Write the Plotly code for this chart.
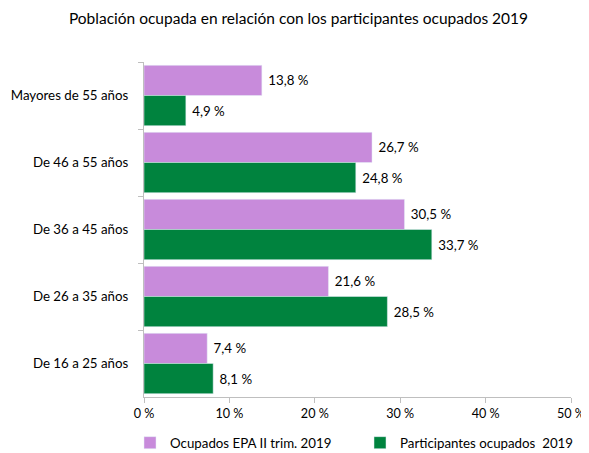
import plotly.graph_objects as go

categorias = ["De 16 a 25 años", "De 26 a 35 años", "De 36 a 45 años", "De 46 a 55 años", "Mayores de 55 años"]
epa = [7.4, 21.6, 30.5, 26.7, 13.8]
participantes = [8.1, 28.5, 33.7, 24.8, 4.9]
x_ticks = [0, 10, 20, 30, 40, 50]
x_labels = ["0 %", "10 %", "20 %", "30 %", "40 %", "50 %"]

def fmt(v):
    return "\u00a0" + f"{v:.1f} %".replace(".", ",")

FONT = "Lato, Open Sans, sans-serif"
W, H = 581, 445  # page body has an 8px margin

fig = go.Figure()
fig.add_trace(go.Bar(
    y=categorias, x=epa, orientation="h",
    name="Ocupados EPA II trim. 2019",
    marker=dict(color="#C88BDB"),
    text=[fmt(v) for v in epa], textposition="outside",
    textfont=dict(size=13.3, color="#000000"), cliponaxis=False,
    legend="legend", showlegend=True,
))
fig.add_trace(go.Bar(
    y=categorias, x=participantes, orientation="h",
    name="Participantes ocupados  2019",
    marker=dict(color="#00833E"),
    text=[fmt(v) for v in participantes], textposition="outside",
    textfont=dict(size=13.3, color="#000000"), cliponaxis=False,
    legend="legend2", showlegend=True,
))

leg_common = dict(orientation="h", xanchor="left", xref="container",
                  y=(H - 435) / H, yanchor="middle", yref="container",
                  font=dict(size=13.3), itemwidth=30, bgcolor="rgba(0,0,0,0)",
                  visible=True)

fig.update_layout(
    width=W, height=H,
    showlegend=True,
    margin=dict(l=136, r=18, t=54, b=56, autoexpand=False),
    barmode="group", bargap=0.1, bargroupgap=0,
    plot_bgcolor="white", paper_bgcolor="white",
    font=dict(family=FONT, size=13.3, color="#000000"),
    title=dict(text="Población ocupada en relación con los participantes ocupados 2019",
               x=0.5, xanchor="center", xref="container", y=1 - 11 / H, yanchor="middle",
               font=dict(size=15.5, color="#000000")),
    xaxis=dict(range=[0, 50], tickvals=x_ticks, ticktext=x_labels,
               showgrid=False, zeroline=False, showline=True, linecolor="#BFBFBF",
               ticks="outside", tickcolor="#BFBFBF", ticklen=5, automargin=False,
               ticklabeloverflow="allow", tickfont=dict(size=12.6)),
    yaxis=dict(categoryorder="array", categoryarray=categorias[::-1],
               autorange="reversed",
               showgrid=False, showline=True, linecolor="#BFBFBF",
               ticks="outside", tickcolor="#BFBFBF", ticklen=5, tickson="boundaries",
               automargin=False, ticklabelstandoff=12,
               tickfont=dict(size=13.3)),
    legend=dict(x=122 / W, **leg_common),
    legend2=dict(x=352 / W, **leg_common),
    uniformtext=dict(minsize=13, mode="show"),
)

fig.write_html("out.html")
